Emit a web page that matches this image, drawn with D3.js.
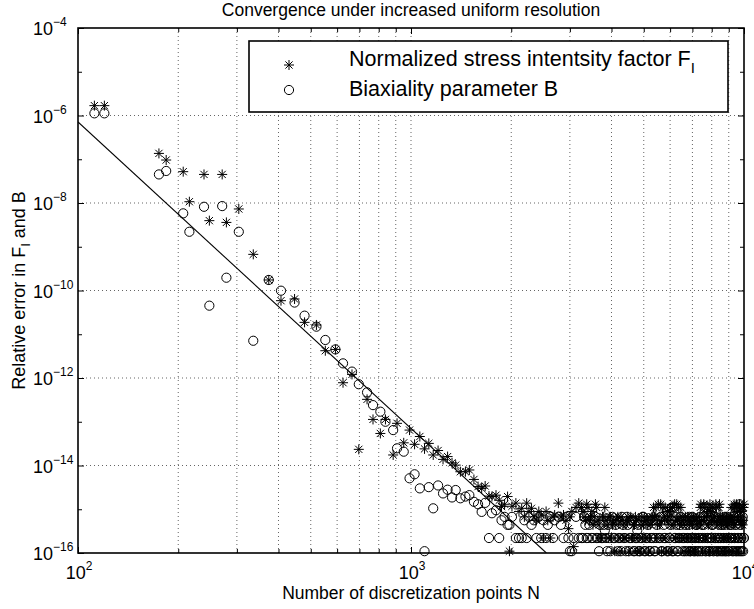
<!DOCTYPE html>
<html>
<head>
<meta charset="utf-8">
<script src="https://cdn.jsdelivr.net/npm/d3@7"></script>
<style>
    body { margin: 0; background: #fff; }
    svg { font-family: "Liberation Sans", Arial, Helvetica, sans-serif; }
</style>
</head>
<body>
<svg id="chart" width="754" height="609"></svg>
<script>
// values

// coarse meshes: one star (F_I) and one circle (B) per N
const nCoarse = [112, 120, 175, 184, 207, 216, 239, 248, 271, 279, 304, 336, 374, 407, 447, 479, 520,
    553, 593, 625, 665, 697, 738, 769, 809, 838, 884, 908, 951, 990, 1025, 1063, 1098];
const fCoarse = [1.68e-6, 1.68e-6, 1.36e-7, 9.6e-8, 5.2e-8, 1.07e-8, 4.5e-8, 3.95e-9, 4.5e-8, 3.6e-9,
    7.3e-9, 6.7e-10, 1.74e-10, 5.85e-11, 6.4e-11, 1.87e-11, 1.63e-11, 4.2e-12, 4.5e-12, 7.8e-13,
    1.21e-12, 2.34e-14, 3.25e-13, 1.13e-13, 5.4e-14, 1.13e-13, 1.74e-14, 9.2e-14, 3.3e-14, 6.45e-14,
    3.05e-14, 4.6e-14, 2.4e-14];
const bCoarse = [1.12e-6, 1.12e-6, 4.5e-8, 5.4e-8, 5.8e-9, 2.2e-9, 8.2e-9, 4.5e-11, 8.5e-9, 1.96e-10,
    2.2e-9, 7.1e-12, 1.74e-10, 9.9e-11, 5.3e-11, 2.66e-11, 1.49e-11, 7.4e-12, 4.5e-12, 2.16e-12,
    1.4e-12, 7.2e-13, 4.7e-13, 2.4e-13, 1.7e-13, 1.0e-13, 6.45e-14, 2.47e-14, 2.07e-14, 5.1e-15,
    6.3e-15, 3.0e-15, 1.1e-16];

// transition towards round-off
const nMid = [1131, 1166, 1206, 1248, 1288, 1328, 1362, 1407, 1457, 1497, 1545, 1590, 1630, 1670, 1715,
    1750, 1800, 1840, 1870, 1910, 1950, 1975, 2010, 2065, 2110, 2150, 2190, 2225, 2260, 2300, 2340,
    2380, 2420, 2460, 2500, 2545, 2575, 2620, 2670, 2700, 2770, 2820, 2870, 2920, 2970, 3000, 3040,
    3080, 3130, 3190];
const fMid = [3.2e-14, 1.74e-14, 2.2e-14, 1.38e-14, 1.6e-14, 1.15e-14, 1.02e-14, 7.2e-15, 7.2e-15, 7.9e-15,
    4.8e-15, 3.3e-15, 3.0e-15, 3.4e-15, 2.0e-15, 1.95e-15, 2.1e-15, 1.6e-15, 1.15e-15, 1.3e-15,
    1.95e-15, 1.1e-16, 1.17e-15, 1.38e-15, 8.9e-16, 1.05e-15, 6.7e-16, 1.38e-15, 8.9e-16, 1.05e-15,
    6.7e-16, 5.6e-16, 8.9e-16, 7.4e-16, 2.2e-16, 8.9e-16, 5.6e-16, 2.2e-16, 6.7e-16, 7.4e-16,
    1.38e-15, 6.7e-16, 7.4e-16, 5.6e-16, 3.6e-16, 6.7e-16, 8.9e-16, 1.4e-16, 1.1e-15, 1.38e-15];
const bMid = [3.2e-15, 1.05e-15, 3.5e-15, 2.3e-15, 2.8e-15, 1.86e-15, 2.75e-15, 1.78e-15, 1.95e-15, 2.1e-15,
    1.48e-15, 1.3e-15, 8.7e-16, 1.4e-15, 2.2e-16, 8.1e-16, 9.5e-16, 2.2e-16, 5.6e-16, 6.7e-16,
    4.4e-16, 4.4e-16, 6.7e-16, 2.2e-16, 2.2e-16, 2.2e-16, 5.6e-16, 2.2e-16, 6.7e-16, 4.4e-16,
    5.6e-16, 2.2e-16, 6.7e-16, 2.2e-16, 5.6e-16, 2.2e-16, 4.4e-16, 6.7e-16, 2.2e-16, 5.6e-16,
    6.7e-16, 4.4e-16, 2.2e-16, 6.7e-16, 2.2e-16, 1.1e-16, 1.1e-16, 2.2e-16, 6.7e-16, 2.2e-16];

// round-off plateau, first half of the meshes
const nFine = [3250, 3310, 3370, 3430, 3490, 3550, 3610, 3670, 3730, 3790,
    3850, 3910, 3970, 4030, 4090, 4150, 4210, 4270, 4330, 4390, 4450, 4510, 4570, 4630, 4690,
    4750, 4810, 4870, 4930, 4990, 5050, 5110, 5170, 5230, 5290,
    5350, 5410, 5470, 5530, 5590, 5650, 5710, 5770, 5830, 5890, 5950, 6010, 6070, 6130, 6190,
    6250, 6310, 6370, 6430, 6490,
    6550, 6610, 6670, 6730, 6790, 6850, 6910, 6970, 7030, 7090, 7150, 7210, 7270,
    7330, 7390, 7450, 7510, 7570, 7630, 7690, 7750, 7810, 7870, 7930, 7990, 8050, 8110, 8170,
    8230, 8290, 8350, 8410,
    8470, 8530, 8590, 8650, 8710, 8770, 8830, 8890, 8950, 9010, 9070,
    9130, 9190, 9250, 9310, 9370, 9430, 9490, 9550, 9610, 9670, 9730, 9790, 9850, 9910, 9970];
const fFine = [1.1e-15, 6.7e-16, 1.3e-15, 5.6e-16, 8.9e-16, 6.7e-16, 1.1e-15, 4.4e-16, 2.2e-16, 6.7e-16,
    5.6e-16, 2.2e-16, 6.7e-16, 4.4e-16, 1.1e-16, 5.6e-16, 2.2e-16, 6.7e-16, 4.4e-16, 2.2e-16,
    5.6e-16, 1.1e-16, 6.7e-16, 2.2e-16, 4.4e-16, 5.6e-16, 2.2e-16, 1.1e-16, 6.7e-16, 4.4e-16,
    2.2e-16, 5.6e-16, 1.1e-16, 4.4e-16, 6.7e-16,
    1.1e-15, 6.7e-16, 2.2e-16, 1.3e-15, 4.4e-16, 1.1e-16, 1.1e-15, 5.6e-16, 2.2e-16, 8.9e-16,
    6.7e-16, 1.1e-15, 1.1e-16, 4.4e-16, 1.3e-15, 2.2e-16, 5.6e-16, 1.1e-15, 6.7e-16, 2.2e-16,
    4.4e-16, 1.1e-16, 6.7e-16, 2.2e-16, 5.6e-16, 4.4e-16, 1.1e-16, 6.7e-16, 2.2e-16, 5.6e-16,
    1.1e-16, 4.4e-16, 6.7e-16,
    2.2e-16, 1.1e-15, 5.6e-16, 1.1e-16, 1.3e-15, 6.7e-16, 2.2e-16, 1.1e-15, 4.4e-16, 1.1e-16,
    8.9e-16, 5.6e-16, 1.1e-15, 2.2e-16, 6.7e-16, 1.3e-15, 1.1e-16, 4.4e-16, 1.1e-15,
    6.7e-16, 2.2e-16, 5.6e-16, 1.1e-16, 4.4e-16, 6.7e-16, 2.2e-16, 1.1e-16, 5.6e-16, 4.4e-16, 2.2e-16,
    6.7e-16, 1.1e-16, 5.6e-16, 4.4e-16, 1.1e-15, 2.2e-16, 1.3e-15, 6.7e-16, 1.1e-16, 1.1e-15,
    5.6e-16, 2.2e-16, 8.9e-16, 4.4e-16, 1.1e-15];
const bFine = [2.2e-16, 6.7e-16, 2.2e-16, 4.4e-16, 2.2e-16, 5.6e-16, 2.2e-16, 1.1e-16, 2.2e-16, 4.4e-16,
    2.2e-16, 4.4e-16, 1.1e-16, 6.7e-16, 2.2e-16, 5.6e-16, 2.2e-16, 1.1e-16, 4.4e-16, 2.2e-16,
    6.7e-16, 1.1e-16, 2.2e-16, 5.6e-16, 1.1e-16, 2.2e-16, 4.4e-16, 1.1e-16, 2.2e-16, 6.7e-16,
    1.1e-16, 2.2e-16, 5.6e-16, 1.1e-16, 2.2e-16,
    2.2e-16, 1.1e-16, 4.4e-16, 8.9e-16, 2.2e-16, 1.1e-16, 6.7e-16, 2.2e-16, 5.6e-16, 1.1e-16,
    2.2e-16, 4.4e-16, 1.1e-15, 1.1e-16, 2.2e-16, 6.7e-16, 1.1e-16, 2.2e-16, 4.4e-16, 5.6e-16,
    1.1e-16, 2.2e-16, 4.4e-16, 1.1e-16, 2.2e-16, 6.7e-16, 1.1e-16, 2.2e-16, 5.6e-16, 1.1e-16,
    2.2e-16, 4.4e-16, 1.1e-16,
    2.2e-16, 6.7e-16, 1.1e-16, 2.2e-16, 4.4e-16, 1.1e-15, 1.1e-16, 2.2e-16, 5.6e-16, 1.1e-16,
    2.2e-16, 8.9e-16, 4.4e-16, 1.1e-16, 2.2e-16, 6.7e-16, 1.1e-16, 2.2e-16, 5.6e-16,
    1.1e-16, 2.2e-16, 4.4e-16, 1.1e-16, 2.2e-16, 6.7e-16, 1.1e-16, 2.2e-16, 5.6e-16, 1.1e-16, 2.2e-16,
    4.4e-16, 2.2e-16, 1.1e-16, 6.7e-16, 2.2e-16, 1.1e-16, 1.1e-15, 5.6e-16, 2.2e-16, 1.1e-16,
    4.4e-16, 2.2e-16, 1.1e-16, 6.7e-16, 2.2e-16];

// round-off plateau, meshes in between
const nFine2 = [3280, 3340, 3400, 3460, 3520, 3580, 3640, 3700, 3760, 3820,
    3880, 3940, 4000, 4060, 4120, 4180, 4240, 4300, 4360, 4420, 4480, 4540, 4600, 4660, 4720,
    4780, 4840, 4900, 4960, 5020, 5080, 5140, 5200, 5260, 5320,
    5380, 5440, 5500, 5560, 5620, 5680, 5740, 5800, 5860, 5920, 5980, 6040, 6100, 6160, 6220,
    6280, 6340, 6400, 6460, 6520,
    6580, 6640, 6700, 6760, 6820, 6880, 6940, 7000, 7060, 7120, 7180, 7240, 7300,
    7360, 7420, 7480, 7540, 7600, 7660, 7720, 7780, 7840, 7900, 7960, 8020, 8080, 8140, 8200,
    8260, 8320, 8380, 8440,
    8500, 8560, 8620, 8680, 8740, 8800, 8860, 8920, 8980, 9040, 9100,
    9160, 9220, 9280, 9340, 9400, 9460, 9520, 9580, 9640, 9700, 9760, 9820, 9880, 9940, 10000];
const fFine2 = [8.9e-16, 5.6e-16, 1.1e-15, 6.7e-16, 4.4e-16, 1.3e-15, 5.6e-16, 2.2e-16, 6.7e-16, 1.1e-15,
    4.4e-16, 6.7e-16, 2.2e-16, 5.6e-16, 4.4e-16, 6.7e-16, 1.1e-16, 5.6e-16, 2.2e-16, 4.4e-16,
    6.7e-16, 5.6e-16, 2.2e-16, 4.4e-16, 6.7e-16, 1.1e-16, 5.6e-16, 4.4e-16, 2.2e-16, 6.7e-16,
    5.6e-16, 4.4e-16, 2.2e-16, 5.6e-16, 6.7e-16,
    6.7e-16, 1.1e-15, 4.4e-16, 5.6e-16, 1.3e-15, 2.2e-16, 6.7e-16, 1.1e-15, 1.1e-16, 5.6e-16,
    8.9e-16, 4.4e-16, 1.1e-15, 6.7e-16, 2.2e-16, 1.3e-15, 5.6e-16, 4.4e-16, 1.1e-15, 6.7e-16,
    5.6e-16, 2.2e-16, 4.4e-16, 6.7e-16, 1.1e-16, 5.6e-16, 2.2e-16, 4.4e-16, 6.7e-16, 1.1e-16,
    5.6e-16, 4.4e-16, 2.2e-16,
    6.7e-16, 1.3e-15, 4.4e-16, 5.6e-16, 1.1e-15, 2.2e-16, 6.7e-16, 8.9e-16, 1.1e-16, 1.3e-15,
    5.6e-16, 4.4e-16, 1.1e-15, 6.7e-16, 2.2e-16, 1.1e-15, 5.6e-16, 1.1e-16, 1.3e-15,
    5.6e-16, 4.4e-16, 6.7e-16, 2.2e-16, 1.1e-16, 5.6e-16, 6.7e-16, 4.4e-16, 2.2e-16, 5.6e-16, 6.7e-16,
    1.1e-15, 5.6e-16, 6.7e-16, 1.3e-15, 4.4e-16, 1.1e-15, 1.1e-16, 8.9e-16, 5.6e-16, 1.3e-15,
    6.7e-16, 4.4e-16, 1.1e-15, 5.6e-16, 1.3e-15];
const bFine2 = [2.2e-16, 4.4e-16, 2.2e-16, 5.6e-16, 2.2e-16, 6.7e-16, 2.2e-16, 4.4e-16, 2.2e-16, 3.3e-16,
    1.1e-16, 2.2e-16, 5.6e-16, 2.2e-16, 4.4e-16, 1.1e-16, 2.2e-16, 6.7e-16, 2.2e-16, 1.1e-16,
    4.4e-16, 2.2e-16, 5.6e-16, 1.1e-16, 2.2e-16, 3.3e-16, 1.1e-16, 2.2e-16, 6.7e-16, 1.1e-16,
    2.2e-16, 4.4e-16, 1.1e-16, 2.2e-16, 5.6e-16,
    1.1e-16, 2.2e-16, 5.6e-16, 2.2e-16, 6.7e-16, 1.1e-16, 4.4e-16, 2.2e-16, 8.9e-16, 1.1e-16,
    2.2e-16, 5.6e-16, 1.1e-16, 1.1e-15, 2.2e-16, 4.4e-16, 1.1e-16, 2.2e-16, 6.7e-16, 2.2e-16,
    2.2e-16, 1.1e-16, 5.6e-16, 2.2e-16, 4.4e-16, 1.1e-16, 2.2e-16, 6.7e-16, 1.1e-16, 2.2e-16,
    4.4e-16, 1.1e-16, 2.2e-16,
    1.1e-16, 2.2e-16, 4.4e-16, 6.7e-16, 2.2e-16, 1.1e-16, 1.1e-15, 2.2e-16, 5.6e-16, 1.1e-16,
    2.2e-16, 4.4e-16, 1.1e-16, 6.7e-16, 2.2e-16, 8.9e-16, 1.1e-16, 2.2e-16, 4.4e-16,
    2.2e-16, 1.1e-16, 5.6e-16, 2.2e-16, 4.4e-16, 1.1e-16, 2.2e-16, 6.7e-16, 1.1e-16, 2.2e-16, 4.4e-16,
    2.2e-16, 5.6e-16, 1.1e-16, 2.2e-16, 1.1e-15, 4.4e-16, 1.1e-16, 2.2e-16, 6.7e-16, 1.3e-15,
    1.1e-16, 2.2e-16, 5.6e-16, 1.1e-16, 2.2e-16];

// reference slope line, end points
const refN = [100, 2550];
const refErr = [7.1e-7, 1e-16];

const xMajor = [1e2, 1e3, 1e4];
const yMajor = [1e-4, 1e-6, 1e-8, 1e-10, 1e-12, 1e-14, 1e-16];
const yMinor = [1e-5, 1e-7, 1e-9, 1e-11, 1e-13, 1e-15];

const TITLE = "Convergence under increased uniform resolution";
const X_LABEL = "Number of discretization points N";
const legendLabels = ["Normalized stress intentsity factor F", "Biaxiality parameter B"];

const PLOT = {left: 78, right: 744, top: 28, bottom: 553},
    STAR = "M0,-5V5M-5,0H5M-3.6,-3.6L3.6,3.6M-3.6,3.6L3.6,-3.6",
    CIRCLE_R = 4.6;

const svg = d3.select("#chart");

const x = d3.scaleLog().domain([1e2, 1e4]).range([PLOT.left, PLOT.right]),
    y = d3.scaleLog().domain([1e-16, 1e-4]).range([PLOT.bottom, PLOT.top]);

const nAll = nCoarse.concat(nMid, nFine, nFine2),
    fAll = fCoarse.concat(fMid, fFine, fFine2),
    bAll = bCoarse.concat(bMid, bFine, bFine2);

// grid
const xGrid = x.ticks().filter((v) => v > 1e2 && v < 1e4),
    yGrid = yMajor.filter((v) => v > 1e-16 && v < 1e-4),
    grid = svg.append("g")
        .attr("stroke", "#222")
        .attr("stroke-width", 0.7)
        .attr("stroke-dasharray", "1,3");

grid.selectAll(".gx").data(xGrid).join("line")
    .attr("x1", (d) => x(d)).attr("x2", (d) => x(d))
    .attr("y1", PLOT.top).attr("y2", PLOT.bottom);
grid.selectAll(".gy").data(yGrid).join("line")
    .attr("y1", (d) => y(d)).attr("y2", (d) => y(d))
    .attr("x1", PLOT.left).attr("x2", PLOT.right);

// inward ticks on all four sides
const xMinor = x.ticks().filter((v) => !xMajor.includes(v));

function ticks(axis, values, size, transform) {
    svg.append("g")
        .attr("transform", transform)
        .call(axis.tickValues(values).tickSize(-size).tickFormat(""))
        .call((g) => g.select(".domain").remove())
        .call((g) => g.selectAll("line").attr("stroke", "#000").attr("stroke-width", 1));
}

ticks(d3.axisBottom(x), xMajor, 6, `translate(0,${PLOT.bottom})`);
ticks(d3.axisBottom(x), xMinor, 4, `translate(0,${PLOT.bottom})`);
ticks(d3.axisTop(x), xMajor, 6, `translate(0,${PLOT.top})`);
ticks(d3.axisTop(x), xMinor, 4, `translate(0,${PLOT.top})`);
ticks(d3.axisLeft(y), yMajor, 6, `translate(${PLOT.left},0)`);
ticks(d3.axisLeft(y), yMinor, 4, `translate(${PLOT.left},0)`);
ticks(d3.axisRight(y), yMajor, 6, `translate(${PLOT.right},0)`);
ticks(d3.axisRight(y), yMinor, 4, `translate(${PLOT.right},0)`);

// reference line N^-7, clipped to the axes
svg.append("clipPath").attr("id", "plotClip").append("rect")
    .attr("x", PLOT.left).attr("y", PLOT.top)
    .attr("width", PLOT.right - PLOT.left).attr("height", PLOT.bottom - PLOT.top);

svg.append("path")
    .datum(d3.zip(refN, refErr))
    .attr("clip-path", "url(#plotClip)")
    .attr("fill", "none")
    .attr("stroke", "#000")
    .attr("stroke-width", 1.1)
    .attr("d", d3.line().x((d) => x(d[0])).y((d) => y(d[1])));

// markers
svg.append("g")
    .attr("fill", "none").attr("stroke", "#000").attr("stroke-width", 1)
    .selectAll("path").data(d3.zip(nAll, fAll)).join("path")
    .attr("transform", (d) => `translate(${x(d[0])},${y(d[1])})`)
    .attr("d", STAR);

svg.append("g")
    .attr("fill", "none").attr("stroke", "#000").attr("stroke-width", 1)
    .selectAll("circle").data(d3.zip(nAll, bAll)).join("circle")
    .attr("cx", (d) => x(d[0]))
    .attr("cy", (d) => y(d[1]))
    .attr("r", CIRCLE_R);

// frame
svg.append("rect")
    .attr("x", PLOT.left).attr("y", PLOT.top)
    .attr("width", PLOT.right - PLOT.left).attr("height", PLOT.bottom - PLOT.top)
    .attr("fill", "none").attr("stroke", "#000").attr("stroke-width", 1.6);

// tick labels, 10 with a raised exponent
const exponent = (v) => Math.round(Math.log10(v)).toString().replace("-", "\u2212");

const xLabels = svg.append("g").attr("font-size", 18).attr("fill", "#000")
    .selectAll("text").data(xMajor).join("text")
    .attr("x", (d) => x(d) + 1)
    .attr("y", 579)
    .attr("text-anchor", "middle");
xLabels.append("tspan").text("10");
xLabels.append("tspan").attr("font-size", 12).attr("dy", -9).text((d) => exponent(d));

const yLabels = svg.append("g").attr("font-size", 18).attr("fill", "#000")
    .selectAll("text").data(yMajor).join("text")
    .attr("x", 33)
    .attr("y", (d) => y(d) + 7);
yLabels.append("tspan").text("10");
yLabels.append("tspan").attr("font-size", 12).attr("dy", -9).text((d) => exponent(d));

// titles
svg.append("text")
    .attr("x", (PLOT.left + PLOT.right) / 2).attr("y", 16)
    .attr("text-anchor", "middle").attr("font-size", 17.5)
    .text(TITLE);

svg.append("text")
    .attr("x", (PLOT.left + PLOT.right) / 2).attr("y", 599)
    .attr("text-anchor", "middle").attr("font-size", 17.5)
    .text(X_LABEL);

const yTitle = svg.append("text")
    .attr("transform", `translate(25,${(PLOT.top + PLOT.bottom) / 2}) rotate(-90)`)
    .attr("text-anchor", "middle").attr("font-size", 18);
yTitle.append("tspan").text("Relative error in F");
yTitle.append("tspan").attr("font-size", 13).attr("dy", 5).text("I");
yTitle.append("tspan").attr("dy", -5).text(" and B");

// legend
const legend = svg.append("g");
legend.append("rect")
    .attr("x", 249).attr("y", 41).attr("width", 479).attr("height", 71)
    .attr("fill", "#fff").attr("stroke", "#000").attr("stroke-width", 1.6);

legend.append("path")
    .attr("transform", "translate(289,65)")
    .attr("d", STAR).attr("fill", "none").attr("stroke", "#000").attr("stroke-width", 1);
legend.append("circle")
    .attr("cx", 289).attr("cy", 90).attr("r", CIRCLE_R)
    .attr("fill", "none").attr("stroke", "#000").attr("stroke-width", 1);

const l1 = legend.append("text").attr("x", 349).attr("y", 66).attr("font-size", 21.5);
l1.append("tspan").text(legendLabels[0]);
l1.append("tspan").attr("font-size", 15).attr("dy", 7).text("I");

legend.append("text").attr("x", 349).attr("y", 96).attr("font-size", 21.5)
    .text(legendLabels[1]);
</script>
</body>
</html>
